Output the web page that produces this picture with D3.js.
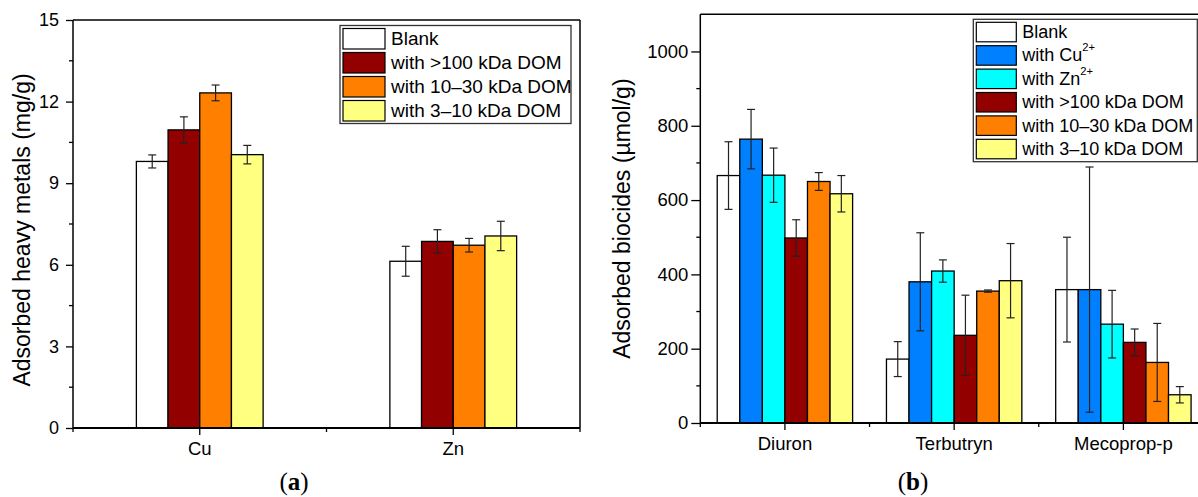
<!DOCTYPE html>
<html><head><meta charset="utf-8">
<script src="https://cdn.jsdelivr.net/npm/d3@7/dist/d3.min.js"></script>
<style>body{margin:0;background:#fff;}svg{display:block;}text{font-family:"Liberation Sans",Arial,sans-serif;fill:#000;}</style>
</head><body><svg id="c" width="1198" height="497"></svg>
<script>
// ---- Panel (a) data ----
const metalCats = ["Cu", "Zn"];
const metalSeries = ["Blank", "with >100 kDa DOM", "with 10–30 kDa DOM", "with 3–10 kDa DOM"];
const metalValues = [[9.8, 6.13], [10.96, 6.86], [12.32, 6.72], [10.05, 7.06]];
const metalErrors = [[0.24, 0.55], [0.48, 0.43], [0.29, 0.25], [0.34, 0.54]];
const metalTicks = [0, 3, 6, 9, 12, 15];
const metalColors = ["#ffffff", "#930000", "#ff8000", "#ffff80"];

// ---- Panel (b) data ----
const bioCats = ["Diuron", "Terbutryn", "Mecoprop-p"];
const bioSeries = ["Blank", "with Cu2+", "with Zn2+", "with >100 kDa DOM", "with 10–30 kDa DOM", "with 3–10 kDa DOM"];
const bioValues = [
  [666, 172, 359],
  [764, 380, 359],
  [667, 409, 266],
  [498, 236, 217],
  [650, 355, 163],
  [617, 383, 76]
];
const bioErrors = [
  [91, 47, 141],
  [80, 132, 330],
  [73, 30, 91],
  [49, 108, 36],
  [24, 3, 105],
  [49, 100, 22]
];
const bioTicks = [0, 200, 400, 600, 800, 1000];
const bioColors = ["#ffffff", "#0080ff", "#00ffff", "#930000", "#ff8000", "#ffff80"];

const svg = d3.select("#c");

function panel(o) {
  const g = svg.append("g");
  const x0 = d3.scaleBand().domain(o.cats).range([o.left, o.right]).padding(0);
  const x1 = d3.scaleBand().domain(d3.range(o.series.length)).range([0, x0.bandwidth()])
    .paddingInner(0).paddingOuter(o.outerPad);
  const y = d3.scaleLinear().domain(o.domain).range([o.bottom, o.top]);

  // bars
  o.series.forEach((s, i) => {
    const sg = g.append("g");
    sg.selectAll("rect").data(o.cats).join("rect")
      .attr("x", c => x0(c) + x1(i))
      .attr("y", (c, j) => y(o.values[i][j]))
      .attr("width", x1.bandwidth())
      .attr("height", (c, j) => y(0) - y(o.values[i][j]))
      .attr("fill", o.colors[i]).attr("stroke", "#000").attr("stroke-width", 1.3);
    // error bars
    o.cats.forEach((c, j) => {
      const cx = x0(c) + x1(i) + x1.bandwidth() / 2;
      const v = o.values[i][j], e = o.errors[i][j];
      const yt = y(v + e), yb = y(Math.max(0, v - e));
      sg.append("line").attr("x1", cx).attr("x2", cx).attr("y1", yt).attr("y2", yb)
        .attr("stroke", "#222").attr("stroke-width", 1.2);
      [yt, yb].forEach(yy => sg.append("line").attr("x1", cx - 4).attr("x2", cx + 4)
        .attr("y1", yy).attr("y2", yy).attr("stroke", "#222").attr("stroke-width", 1.2));
    });
  });

  // frame top & right
  g.append("line").attr("x1", o.left).attr("x2", o.right).attr("y1", o.top).attr("y2", o.top)
    .attr("stroke", "#000").attr("stroke-width", 1.5);
  g.append("line").attr("x1", o.right).attr("x2", o.right).attr("y1", o.top).attr("y2", o.bottom)
    .attr("stroke", "#000").attr("stroke-width", 1.5);

  // y axis
  const ya = d3.axisLeft(y).tickValues(o.ticks).tickFormat(d3.format("d"))
    .tickSize(o.tick).tickPadding(o.tickPad).tickSizeOuter(0);
  const yg = g.append("g").attr("transform", `translate(${o.left},0)`).call(ya);
  yg.select(".domain").attr("stroke-width", 1.5).attr("d", `M0,${o.top}V${o.bottom}`);
  yg.selectAll(".tick line").attr("stroke-width", 1.3);
  yg.selectAll("text").style("font-size", o.tickFs + "px");
  const minor = o.ticks.slice(0, -1).map((t, k) => (t + o.ticks[k + 1]) / 2);
  g.append("g").selectAll("line").data(minor).join("line")
    .attr("x1", o.left - 4).attr("x2", o.left).attr("y1", d => y(d)).attr("y2", d => y(d))
    .attr("stroke", "#000").attr("stroke-width", 1.3);

  // x axis
  const xa = d3.axisBottom(x0).tickSize(7).tickPadding(7).tickSizeOuter(0);
  const xg = g.append("g").attr("transform", `translate(0,${o.bottom})`).call(xa);
  xg.select(".domain").attr("stroke-width", 2.2).attr("d", `M${o.left},0H${o.right}`);
  xg.selectAll(".tick line").attr("stroke-width", 1.3);
  xg.selectAll("text").style("font-size", "18.5px");
  const bounds = o.cats.map(c => x0(c)).concat([o.right]);
  g.append("g").selectAll("line").data(bounds).join("line")
    .attr("x1", d => d).attr("x2", d => d).attr("y1", o.bottom).attr("y2", o.bottom + 4)
    .attr("stroke", "#000").attr("stroke-width", 1.3);

  // y title
  g.append("text").attr("transform", `translate(${o.titleX},${(o.top + o.bottom) / 2 + o.titleDy}) rotate(-90)`)
    .attr("text-anchor", "middle").attr("dominant-baseline", "central")
    .style("font-size", "23px").text(o.yTitle);

  // legend
  const lg = g.append("g");
  lg.append("rect").attr("x", o.leg.x).attr("y", o.leg.y).attr("width", o.leg.w).attr("height", o.leg.h)
    .attr("fill", "#fff").attr("stroke", "#333").attr("stroke-width", 1.3);
  o.series.forEach((s, i) => {
    const ry = o.leg.y + 3 + i * o.leg.pitch;
    lg.append("rect").attr("x", o.leg.x + 3).attr("y", ry).attr("width", o.leg.sw).attr("height", o.leg.sh)
      .attr("fill", o.colors[i]).attr("stroke", "#000").attr("stroke-width", 1.2);
    const t = lg.append("text").attr("x", o.leg.x + o.leg.sw + 9).attr("y", ry + o.leg.sh / 2)
      .attr("dominant-baseline", "central").style("font-size", o.leg.fs + "px");
    const m = s.match(/^(with (?:Cu|Zn))(2\+)$/);
    if (m) {
      t.append("tspan").text(m[1]);
      t.append("tspan").attr("dy", -8).style("font-size", (o.leg.fs * 0.62) + "px").text("2+");
    } else t.text(s);
  });

  // subcaption
  const sc = svg.append("text").attr("x", o.capX).attr("y", 490).attr("text-anchor", "middle")
    .style("font-family", "'Liberation Serif','DejaVu Serif',serif").style("font-size", "25px");
  sc.append("tspan").text("(");
  sc.append("tspan").style("font-weight", "bold").text(o.cap);
  sc.append("tspan").text(")");
}

panel({
  cats: metalCats, series: metalSeries, values: metalValues, errors: metalErrors,
  colors: metalColors, ticks: metalTicks, domain: [0, 15], tick: 7, tickPad: 7, tickFs: 18,
  left: 73, right: 580, top: 20, bottom: 428, outerPad: 2,
  yTitle: "Adsorbed heavy metals (mg/g)", titleX: 22, titleDy: 6,
  leg: { x: 340, y: 25.5, w: 231, h: 98, pitch: 24, sw: 42, sh: 20.5, fs: 19 },
  cap: "a", capX: 294
});

panel({
  cats: bioCats, series: bioSeries, values: bioValues, errors: bioErrors,
  colors: bioColors, ticks: bioTicks, domain: [0, 1100], tick: 9, tickPad: 3, tickFs: 18.5,
  left: 700.3, right: 1208, top: 14.3, bottom: 423, outerPad: 0.75,
  yTitle: "Adsorbed biocides (µmol/g)", titleX: 622, titleDy: 0,
  leg: { x: 973.3, y: 19.3, w: 224, h: 142.4, pitch: 23.4, sw: 40, sh: 19.5, fs: 18 },
  cap: "b", capX: 913
});
</script></body></html>
